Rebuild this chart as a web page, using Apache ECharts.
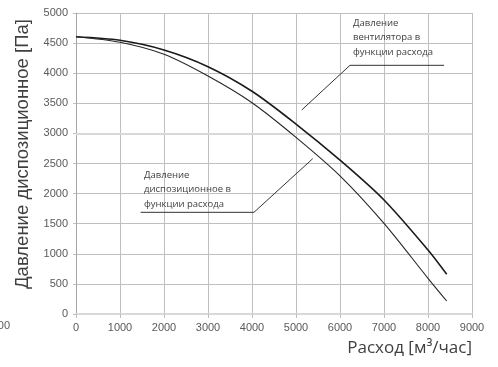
<!DOCTYPE html>
<html>
<head>
<meta charset="utf-8">
<script src="https://cdn.jsdelivr.net/npm/echarts@6/dist/echarts.min.js"></script>
<style>
  html, body { margin: 0; padding: 0; background: #fff; }
  #chart { width: 498px; height: 367px; }
</style>
</head>
<body>
<div id="chart"></div>
<script>
// расход, м3/час
var flow = [0, 1000, 2000, 3000, 4000, 5000, 6000, 7000, 8000, 8425];
// давление вентилятора
var fanPressure = [4605, 4546, 4385, 4108, 3700, 3155, 2555, 1894, 1063, 660];
// давление диспозиционное
var availPressure = [4605, 4513, 4314, 3953, 3510, 2935, 2295, 1505, 593, 216];

var xTicks = { min: 0, max: 9000, interval: 1000 };
var yTicks = { min: 0, max: 5000, interval: 500 };

// подписи-выноски (в координатах данных)
var fanNote = ["Давление", "вентилятора в", "функции расхода"];
var fanNoteAt = [6295, 4950];
var fanNoteLine = [[8364, 4131], [6227, 4131], [5130, 3389]];
var availNote = ["Давление", "диспозиционное в", "функции расхода"];
var availNoteAt = [1545, 2425];
var availNoteLine = [[1470, 1689], [4045, 1689], [5380, 2580]];

function pairs(xs, ys) {
  var out = [];
  for (var i = 0; i < xs.length; i++) out.push([xs[i], ys[i]]);
  return out;
}

var gridColors = [];
for (var k = 0; k <= 10; k++) gridColors.push(k == 0 || k == 6 ? "#d9d9d9" : "#bfbfbf");

var myChart = echarts.init(document.getElementById("chart"));

var option = {
  animation: false,
  grid: { left: 76, right: 26, top: 13, bottom: 53 },
  xAxis: {
    type: "value",
    min: xTicks.min,
    max: xTicks.max,
    interval: xTicks.interval,
    axisLine: { show: true, lineStyle: { color: "#d9d9d9", width: 2 } },
    axisTick: { show: true, length: 4, lineStyle: { color: "#bfbfbf" } },
    axisLabel: {
      color: "#595959", fontSize: 11, fontFamily: "Liberation Sans", margin: 8,
      formatter: function (v) { return String(v); }
    },
    splitLine: { show: true, lineStyle: { color: "#bfbfbf", width: 1 } }
  },
  yAxis: {
    type: "value",
    min: yTicks.min,
    max: yTicks.max,
    interval: yTicks.interval,
    axisLine: { show: true, lineStyle: { color: "#a6a6a6", width: 1 } },
    axisTick: { show: true, length: 3, lineStyle: { color: "#bfbfbf" } },
    axisLabel: {
      color: "#595959", fontSize: 11, fontFamily: "Liberation Sans", margin: 8,
      formatter: function (v) { return String(v); }
    },
    splitLine: { show: true, lineStyle: { color: gridColors, width: 1 } }
  },
  series: [
    {
      type: "line",
      name: "fan",
      data: pairs(flow, fanPressure),
      smooth: 0.3,
      symbol: "none",
      lineStyle: { color: "#1a1a1a", width: 1.6 },
      z: 5,
      markLine: {
        silent: true,
        symbol: "none",
        label: { show: false },
        lineStyle: { color: "#d9d9d9", width: 2, type: "solid" },
        data: [{ yAxis: 3000 }],
        z: 1
      }
    },
    {
      type: "line",
      name: "avail",
      data: pairs(flow, availPressure),
      smooth: 0.3,
      symbol: "none",
      lineStyle: { color: "#262626", width: 1.1 },
      z: 5
    }
  ]
};
myChart.setOption(option);

function toPx(p) { return myChart.convertToPixel({ gridIndex: 0 }, p); }

var noteStyle = { fill: "#404040", font: '9.5px "Open Sans"', lineHeight: 14.5 };

var fanPos = toPx(fanNoteAt);
var availPos = toPx(availNoteAt);

myChart.setOption({
  graphic: [
    {
      type: "polyline",
      shape: { points: fanNoteLine.map(toPx) },
      style: { stroke: "#333", lineWidth: 1, fill: null },
      z: 10
    },
    {
      type: "polyline",
      shape: { points: availNoteLine.map(toPx) },
      style: { stroke: "#333", lineWidth: 1, fill: null },
      z: 10
    },
    {
      type: "text",
      x: fanPos[0], y: fanPos[1],
      style: Object.assign({ text: fanNote.join("\n") }, noteStyle),
      z: 10
    },
    {
      type: "text",
      x: availPos[0], y: availPos[1],
      style: Object.assign({ text: availNote.join("\n") }, noteStyle),
      z: 10
    },
    {
      type: "text",
      x: 23, y: 154,
      rotation: Math.PI / 2,
      style: {
        text: "Давление диспозиционное [Па]", fill: "#404040",
        font: '18.5px "Liberation Sans"', align: "center", verticalAlign: "middle"
      }
    },
    {
      type: "text",
      right: 26, top: 340,
      style: { text: "Расход [м³/час]", fill: "#404040", font: '17px "Open Sans"' }
    },
    {
      type: "text",
      x: 10, y: 320,
      style: { text: "000", fill: "#595959", font: '11px "Liberation Sans"', align: "right" }
    }
  ]
});
</script>
</body>
</html>
